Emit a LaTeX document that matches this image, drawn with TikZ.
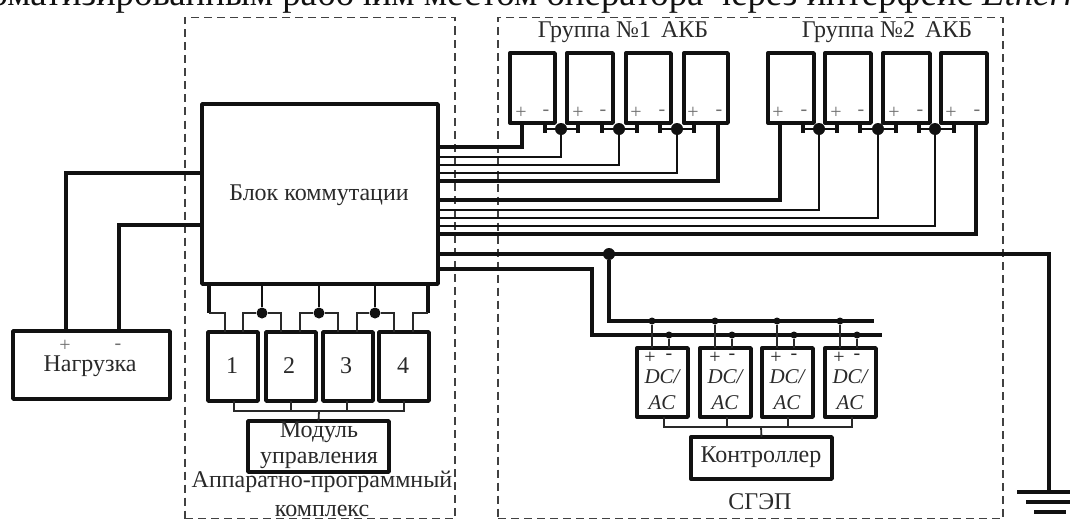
\documentclass[tikz,border=0pt]{standalone}
\usepackage{fontspec}
\setmainfont{Liberation Serif}
\definecolor{ink}{HTML}{111111}
\definecolor{txt}{HTML}{2A2A2A}
\tikzset{
  blk/.style={draw=ink,line width=3.4pt,inner sep=0pt,outer sep=0pt,fill=white,line join=round},
  frame/.style={draw=ink!80,line width=1.4pt,dash pattern=on 8pt off 5pt},
  fat/.style={draw=ink,line width=3.3pt,line join=miter},
  mid/.style={draw=ink,line width=2.4pt},
  slim/.style={draw=ink!90,line width=1.8pt},
  lab/.style={text=txt,font=\fontsize{24}{24}\selectfont,inner sep=0pt},
  sign/.style={text=ink!60,font=\fontsize{20}{20}\selectfont,inner sep=0pt},
  dcl/.style={text=txt,font=\fontsize{21}{21}\selectfont\itshape,inner sep=0pt},
  dotb/.style={circle,fill=ink,inner sep=0pt,minimum size=#1}
}
\newcommand{\bx}[5]{\node[blk,minimum width={#4-#2},minimum height={#5-#3}] (#1) at ({(#2+#4)/2},{(#3+#5)/2}) {};}
\begin{document}
\begin{tikzpicture}[x=1pt,y=-1pt]
\useasboundingbox (0,0) rectangle (1070,519);
\clip (0,0) rectangle (1070,519);
\fill[white] (0,0) rectangle (1070,519);
\node[anchor=base west,inner sep=0pt,text=ink,font=\fontsize{36.8}{37}\selectfont] (head) at (-59,6) {автоматизированным рабочим местом оператора через интерфейс \textit{Ethernet}};
% frames
\node[frame,inner sep=0pt,minimum width=270pt,minimum height=501pt] (fa) at (320,268) {};
\node[frame,inner sep=0pt,minimum width=505pt,minimum height=501pt] (fb) at (750.5,268) {};
% main block
\bx{blk}{202}{104}{438}{284}
\node[lab] (blkt) at (319,195) {Блок коммутации};
% load
\bx{load}{13}{331}{170}{399}
\node[lab] (loadt) at (90,366) {Нагрузка};
\node[sign] (lp) at (65,346) {+};
\node[sign] (lm) at (118,347) {-};
\draw[fat] (load.north -| 66,0) |- (blk.west |- 0,173);
\draw[fat] (load.north -| 119,0) |- (blk.west |- 0,225);
% modules
\bx{m1}{208}{332}{258}{401}
\bx{m2}{266}{332}{316}{401}
\bx{m3}{323}{332}{373}{401}
\bx{m4}{379}{332}{429}{401}
\foreach \m/\x/\t in {m1/232/1,m2/289/2,m3/346/3,m4/403/4}
  \node[lab] (\m t) at (\x,366) {\t};
\draw[fat] (blk.south -| 209,0) -- (209,313) coordinate (ca);
\draw[slim] (209,313) -| (m1.north -| 225,0);
\draw[fat] (blk.south -| 428,0) -- (428,313) coordinate (cb);
\draw[slim] (428,313) -| (m4.north -| 413,0);
\foreach \n/\x/\a/\b/\ma/\mb in {1/262/243/281/m1/m2,2/319/300/338/m2/m3,3/375/357/394/m3/m4}{
  \node[dotb=11pt] (jm\n) at (\x,313) {};
  \draw[mid] (blk.south -| \x,0) -- (jm\n);
  \draw[slim] (\ma.north -| \a,0) |- (jm\n);
  \draw[slim] (\mb.north -| \b,0) |- (jm\n);
}
\coordinate (busm) at (319,411);
\foreach \m/\x in {m1/234,m2/291,m3/347,m4/404}
  \draw[slim] (\m.south -| \x,0) |- (busm);
\bx{mod}{248}{421}{389}{472}
\draw[slim] (busm) -- (mod.north);
\node[lab] (modt1) at (319,432) {Модуль};
\node[lab] (modt2) at (319,460) {управления};
\node[lab] (fat1) at (322,482) {Аппаратно-программный};
\node[lab] (fat2) at (322,511) {комплекс};
% batteries
\foreach \n/\a/\b in {1/510/555,2/567/613,3/626/671,4/684/728,5/768/814,6/825/871,7/883/930,8/941/987}{
  \bx{b\n}{\a}{53}{\b}{123}
}
\foreach \n/\p/\m in {1/521/546,2/578/603,3/636/662,4/693/719,5/778/804,6/836/861,7/894/920,8/951/977}{
  \node[sign] (bp\n) at (\p,113) {+};
  \node[sign] (bm\n) at (\m,113) {-};
}
\node[lab] (g1) at (623,32) {Группа №1\, АКБ};
\node[lab] (g2) at (887,32) {Группа №2\, АКБ};
% battery bridges
\foreach \k/\l/\r/\mx/\dx/\px/\y in {1/b1/b2/545/561/578/157,2/b2/b3/602/619/637/165,3/b3/b4/660/677/694/173,4/b5/b6/803/819/837/210,5/b6/b7/860/878/896/218,6/b7/b8/919/935/954/226}{
  \node[dotb=12pt] (jb\k) at (\dx,129) {};
  \draw[fat] (\l.south -| \mx,0) -- (\mx,133);
  \draw[fat] (\r.south -| \px,0) -- (\px,133);
  \draw[mid] (\mx,129) -- (jb\k);
  \draw[mid] (\px,129) -- (jb\k);
  \draw[mid] (jb\k) |- (blk.east |- 0,\y);
}
\draw[fat] (b1.south -| 522,0) |- (blk.east |- 0,147);
\draw[fat] (b4.south -| 718,0) |- (blk.east |- 0,181);
\draw[fat] (b5.south -| 780,0) |- (blk.east |- 0,200);
\draw[fat] (b8.south -| 976,0) |- (blk.east |- 0,234);
% ground
\coordinate (gnd) at (1049,492);
\draw[fat] (blk.east |- 0,254) -| (gnd);
\draw[fat] (1017,492) -- (1075,492);
\draw[fat] (1026,502) -- (1075,502);
\draw[fat] (1034,512) -- (1066,512);
\node[dotb=12pt] (jg) at (609,254) {};
% DC buses
\coordinate (bp) at (874,321);
\coordinate (bn) at (882,335);
\draw[fat] (jg) |- (bp);
\draw[fat] (blk.east |- 0,269) -| (592,335) -- (bn);
\foreach \n/\a/\b/\p/\m/\tp/\tm/\c in {1/637/688/652/669/650/669/662,2/700/751/715/732/715/732/725,3/762/813/777/794/776/794/787,4/825/876/840/857/839/857/850}{
  \bx{d\n}{\a}{348}{\b}{417}
  \node[dotb=7pt] (dp\n) at (\p,321) {};
  \node[dotb=7pt] (dn\n) at (\m,335) {};
  \draw[slim] (dp\n) -- (d\n.north -| \p,0);
  \draw[slim] (dn\n) -- (d\n.north -| \m,0);
  \node[sign,text=txt] (dsp\n) at (\tp,358) {+};
  \node[sign,text=txt] (dsm\n) at (\tm,357) {-};
  \node[dcl] (dt\n) at (\c,377) {DC/};
  \node[dcl] (du\n) at (\c,403) {AC};
}
\bx{ctl}{691}{437}{832}{479}
\coordinate (busd) at (761,427);
\foreach \n/\x in {1/664,2/727,3/788,4/852}
  \draw[slim] (d\n.south -| \x,0) |- (busd);
\draw[slim] (busd) -- (ctl.north);
\node[lab] (ctlt) at (761,457) {Контроллер};
\node[lab] (sg) at (760,502) {СГЭП};
\end{tikzpicture}
\end{document}
